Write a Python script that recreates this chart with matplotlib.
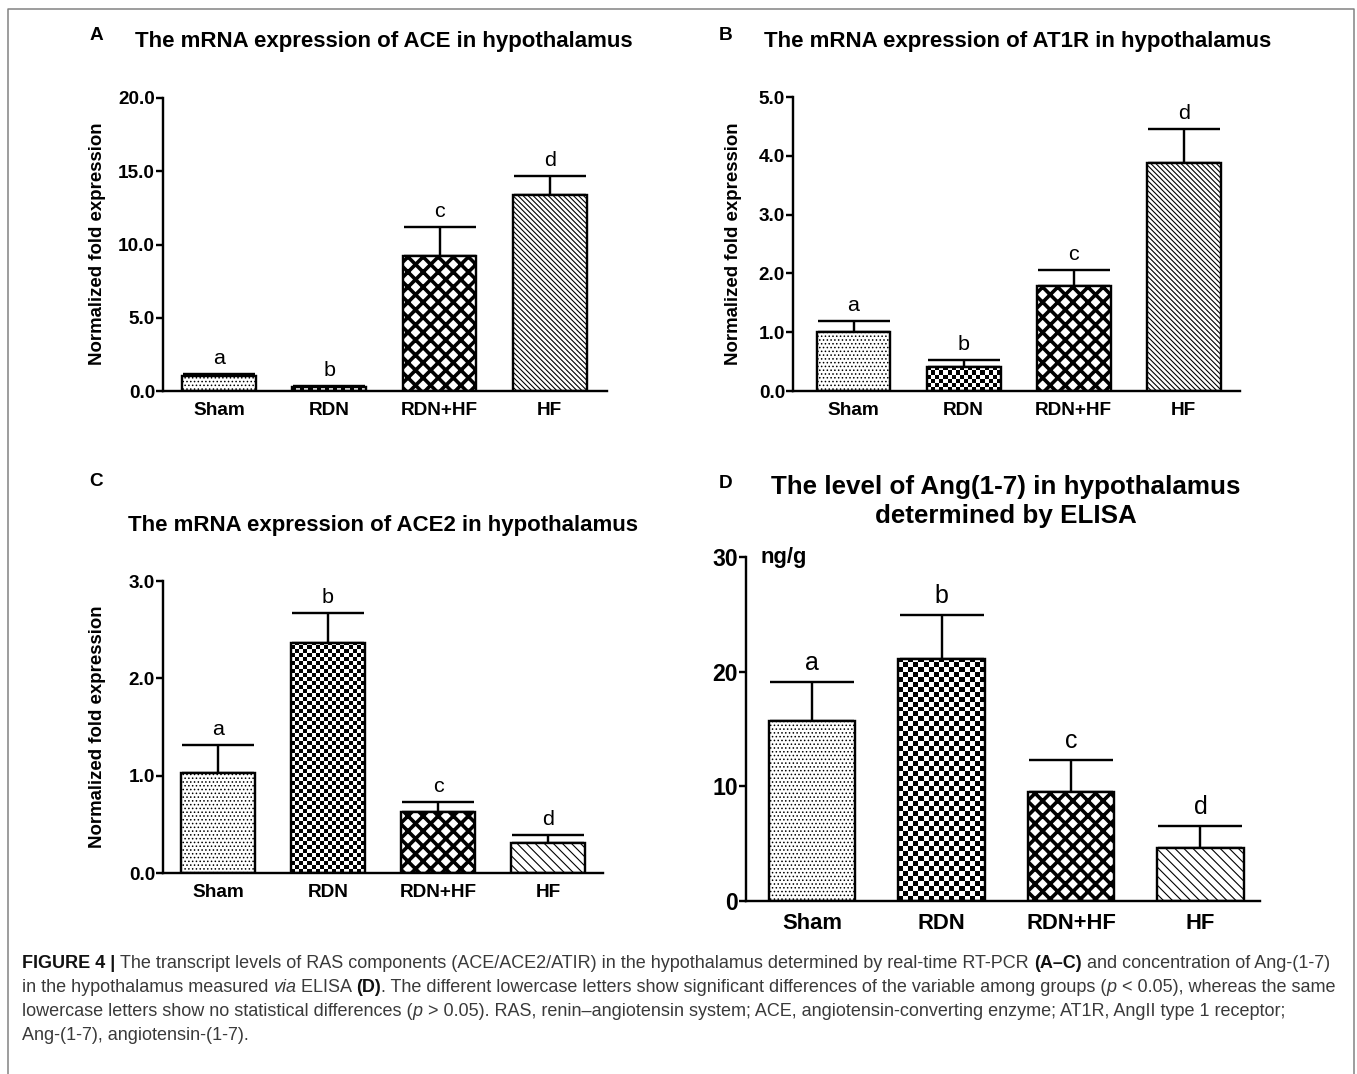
import numpy as np
import matplotlib
matplotlib.use('Agg')
import matplotlib.pyplot as plt
from matplotlib.lines import Line2D

DPI = 136
W, H = 1357, 1074


def pt(px):
    # pixel size -> points at the output dpi
    return px * 72.0 / DPI


groups = ['Sham', 'RDN', 'RDN+HF', 'HF']
letters = ['a', 'b', 'c', 'd']

ace_vals = [1.0, 0.3, 9.2, 13.35]
ace_err = [0.18, 0.06, 2.0, 1.35]
at1r_vals = [1.01, 0.41, 1.79, 3.88]
at1r_err = [0.18, 0.12, 0.26, 0.58]
ace2_vals = [1.03, 2.36, 0.63, 0.31]
ace2_err = [0.28, 0.31, 0.10, 0.08]
ang_vals = [15.7, 21.1, 9.5, 4.6]
ang_err = [3.4, 3.8, 2.8, 1.9]

plt.rcParams['font.family'] = ['Liberation Sans', 'DejaVu Sans']
plt.rcParams['hatch.linewidth'] = pt(1.2)

fig = plt.figure(figsize=(W / DPI, H / DPI), dpi=DPI)


def fig_axes(left, right, y0, ytop):
    return fig.add_axes([left / W, 1 - y0 / H, (right - left) / W, (y0 - ytop) / H])


def panel(ax, vals, err, ylim, yticks, yfmt, xlim, hf_hatch, cell, cap_px,
          tick_px, xlab_px, letter_px, letter_off):
    x = np.arange(len(groups))
    w = 0.67
    ax.set_xlim(*xlim)
    ax.set_ylim(*ylim)
    bars = ax.bar(x, vals, width=w, color='white', edgecolor='black',
                  linewidth=pt(2.4), zorder=2)
    hatches = ['......', None, 'xxx', hf_hatch]
    hlw = [pt(0.9), None, pt(3.6), pt(1.1)]
    for b, h, lw in zip(bars, hatches, hlw):
        if h:
            b.set_hatch(h)
            if hasattr(b, 'set_hatch_linewidth'):
                b.set_hatch_linewidth(lw)
    bars[1].set_facecolor('none')
    # checkerboard fill for the RDN bar
    bbox = ax.get_position()
    ax_w_px = bbox.width * W
    ax_h_px = bbox.height * H
    bar_px = w * ax_w_px / (xlim[1] - xlim[0])
    ncol = max(2, int(round(bar_px / cell)))
    nrow = max(2, int(round(ax_h_px / cell)))
    checker = (np.indices((nrow, ncol)).sum(axis=0) % 2).astype(float)
    im = ax.imshow(checker, cmap='gray', interpolation='nearest', aspect='auto',
                   extent=(x[1] - w / 2, x[1] + w / 2, ylim[0], ylim[1]), zorder=1.5)
    im.set_clip_path(bars[1])
    ax.set_xlim(*xlim)
    ax.set_ylim(*ylim)
    ax.set_aspect('auto')

    ax.errorbar(x, vals, yerr=[np.zeros(len(vals)), err], fmt='none', ecolor='black',
                elinewidth=pt(2.4), capsize=pt(cap_px), capthick=pt(2.4), zorder=1)
    for xi, v, e, l in zip(x, vals, err, letters):
        ax.annotate(l, (xi, v + e), xytext=(0, pt(letter_off)), textcoords='offset points',
                    ha='center', va='baseline', fontsize=pt(letter_px))

    for s in ['top', 'right']:
        ax.spines[s].set_visible(False)
    for s in ['left', 'bottom']:
        ax.spines[s].set_linewidth(pt(2.4))
    ax.set_yticks(yticks)
    ax.set_yticklabels([yfmt % t for t in yticks], fontweight='bold', fontsize=pt(tick_px))
    ax.tick_params(axis='y', length=pt(7), width=pt(2.4), pad=pt(1))
    ax.set_xticks(x)
    ax.set_xticklabels(groups, fontweight='bold', fontsize=pt(xlab_px))
    ax.tick_params(axis='x', length=0, pad=pt(11))
    ax.set_facecolor('none')


# A
axA = fig_axes(163, 607, 391, 98)
panel(axA, ace_vals, ace_err, (0, 20), [0, 5, 10, 15, 20], '%.1f', (-0.51, 3.52),
      '\\' * 9, 4, 36, 19, 19, 21.5, 10)
# B
axB = fig_axes(793, 1240, 391, 97)
panel(axB, at1r_vals, at1r_err, (0, 5), [0, 1, 2, 3, 4, 5], '%.1f', (-0.55, 3.51),
      '\\' * 9, 4, 36, 19, 19, 21.5, 10)
# C
axC = fig_axes(163, 603, 873, 581)
panel(axC, ace2_vals, ace2_err, (0, 3), [0, 1, 2, 3], '%.1f', (-0.5, 3.5),
      '\\' * 5, 4, 36, 19, 19, 21.5, 10)
# D
axD = fig_axes(746, 1260, 901, 557)
panel(axD, ang_vals, ang_err, (0, 30), [0, 10, 20, 30], '%d', (-0.51, 3.46),
      '\\' * 5, 5, 42, 23, 22, 25, 12)
axD.tick_params(axis='x', pad=pt(12))
axD.text(15 / 514, 1.0, 'ng/g', transform=axD.transAxes, ha='left', va='center',
         fontweight='bold', fontsize=pt(22))

# titles and panel letters
title_kw = dict(ha='center', va='center', fontweight='bold')
fig.text(384 / W, 1 - 41 / H, 'The mRNA expression of ACE in hypothalamus', fontsize=pt(22.2), **title_kw)
fig.text(1018 / W, 1 - 41 / H, 'The mRNA expression of AT1R in hypothalamus', fontsize=pt(22.2), **title_kw)
fig.text(383 / W, 1 - 525 / H, 'The mRNA expression of ACE2 in hypothalamus', fontsize=pt(22.2), **title_kw)
fig.text(1006 / W, 1 - 487 / H, 'The level of Ang(1-7) in hypothalamus', fontsize=pt(26), **title_kw)
fig.text(1006 / W, 1 - 516 / H, 'determined by ELISA', fontsize=pt(26), **title_kw)
for lab, xp, yp in [('A', 96, 36), ('B', 726, 36), ('C', 96, 481), ('D', 726, 483)]:
    fig.text(xp / W, 1 - yp / H, lab, ha='center', va='center', fontweight='bold', fontsize=pt(19))

ylab = 'Normalized fold expression'
for xp, yp in [(97, 244), (733, 244), (98, 727)]:
    fig.text(xp / W, 1 - yp / H, ylab, rotation=90, ha='center', va='center',
             fontweight='bold', fontsize=pt(18.6))

# frame around the figure
fig.add_artist(Line2D([8 / W, 8 / W, 1354 / W, 1354 / W], [0, 1 - 9 / H, 1 - 9 / H, 0],
                      transform=fig.transFigure, color='#808080', lw=pt(1.5)))

# caption with mixed styles
renderer = fig.canvas.get_renderer()
cap_size = pt(18)
cap_color = '#3a3a3a'


def text_width(s, **kw):
    t1 = fig.text(0, 0, '|' + s + '|', fontsize=cap_size, **kw)
    t2 = fig.text(0, 0, '||', fontsize=cap_size, **kw)
    wd = t1.get_window_extent(renderer).width - t2.get_window_extent(renderer).width
    t1.remove()
    t2.remove()
    return wd


N = dict()
B = dict(fontweight='bold')
I = dict(fontstyle='italic')
caption = [
    [('FIGURE 4 | ', B),
     ('The transcript levels of RAS components (ACE/ACE2/ATIR) in the hypothalamus determined by real-time RT-PCR ', N),
     ('(A\u2013C)', B), (' and concentration of Ang-(1-7)', N)],
    [('in the hypothalamus measured ', N), ('via', I), (' ELISA ', N), ('(D)', B),
     ('. The different lowercase letters show significant differences of the variable among groups (', N),
     ('p', I), (' < 0.05), whereas the same', N)],
    [('lowercase letters show no statistical differences (', N), ('p', I),
     (' > 0.05). RAS, renin\u2013angiotensin system; ACE, angiotensin-converting enzyme; AT1R, AngII type 1 receptor;', N)],
    [('Ang-(1-7), angiotensin-(1-7).', N)],
]
line_y = [963, 988, 1012, 1036]
for segs, yp in zip(caption, line_y):
    xp = 22.0
    for s, kw in segs:
        color = '#111111' if 'fontweight' in kw else cap_color
        fig.text(xp / W, 1 - yp / H, s, fontsize=cap_size, va='center', ha='left', color=color, **kw)
        xp += text_width(s, **kw)

fig.savefig('out.png', dpi=DPI)
